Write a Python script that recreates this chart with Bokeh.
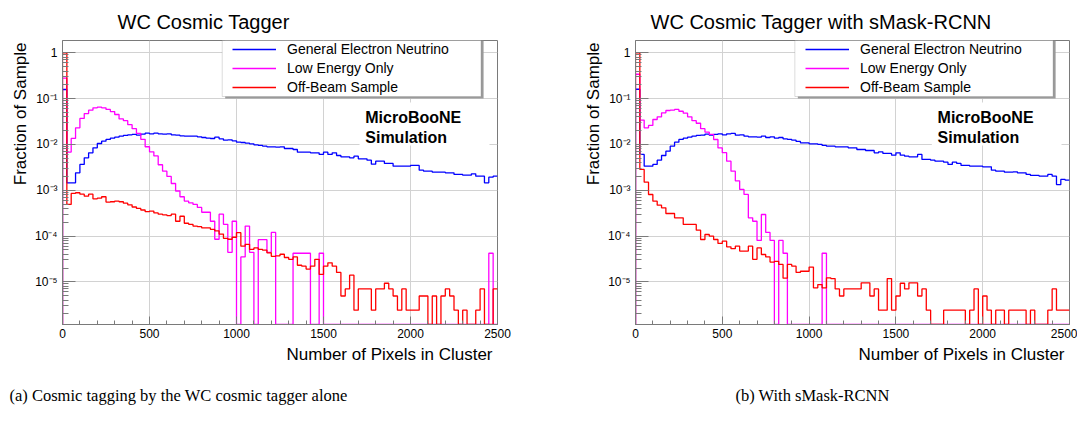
import numpy as np
from bokeh.plotting import figure
from bokeh.models import (Range1d, Legend, LegendItem, Label, Title, BoxAnnotation,
                          FixedTicker, SingleIntervalTicker, CustomJSTickFormatter)
from bokeh.layouts import row
from bokeh.embed import file_html
from bokeh.resources import INLINE

# ---------------- data ----------------
bin_edges = list(range(0, 2525, 25))          # 100 bins of 25 pixels
x_ticks_interval = 500
y_major_ticks = [1e-5, 1e-4, 1e-3, 1e-2, 1e-1, 1.0]
series_names = ["General Electron Neutrino", "Low Energy Only", "Off-Beam Sample"]
series_colors = ["#0000ff", "#ff00ff", "#ff0000"]

wc_nue = [0.158, 0.00145, 0.00145, 0.00240, 0.00365, 0.00510, 0.00656, 0.00843, 0.01048, 0.01178,
          0.01282, 0.01370, 0.01442, 0.01516, 0.01567, 0.01621, 0.01648, 0.01593, 0.01675, 0.01762,
          0.01703, 0.01762, 0.01703, 0.01675, 0.01703, 0.01621, 0.01593, 0.01541, 0.01516, 0.01516,
          0.01516, 0.01466, 0.01417, 0.01370, 0.01347, 0.01442, 0.01325, 0.01239, 0.01260, 0.01199,
          0.01121, 0.01102, 0.01066, 0.01031, 0.00980, 0.00948, 0.00917, 0.00887, 0.00887, 0.00872,
          0.00887, 0.00815, 0.00815, 0.00775, 0.00678, 0.00678, 0.00678, 0.00656, 0.00656, 0.00603,
          0.00678, 0.00603, 0.00656, 0.00573, 0.00536, 0.00536, 0.00510, 0.00554, 0.00485, 0.00485,
          0.00453, 0.00371, 0.00431, 0.00431, 0.00384, 0.00384, 0.00335, 0.00335, 0.00335, 0.00335,
          0.00347, 0.00347, 0.00274, 0.00261, 0.00261, 0.00248, 0.00248, 0.00248, 0.00240, 0.00240,
          0.00221, 0.00221, 0.00213, 0.00213, 0.00228, 0.00203, 0.00203, 0.00145, 0.00193, 0.00203]

wc_lowe = [0.28, 0.0068, 0.0135, 0.023, 0.037, 0.047, 0.056, 0.063, 0.065, 0.063,
           0.058, 0.052, 0.045, 0.036, 0.033, 0.027, 0.022, 0.0174, 0.0129, 0.0089,
           0.0069, 0.0056, 0.0036, 0.0026, 0.0020, 0.0014, 0.00096, 0.00072, 0.00058, 0.00053,
           0.00049, 0.00042, 0.00033, 0.00033, 0.00021, 8.5e-5, 3.0e-4, 1.8e-4, 4.4e-5, 2.1e-4,
           0, 3.5e-5, 1.65e-4, 4.4e-5, 0, 8.3e-5, 8.3e-5, 4.4e-5, 1.2e-4, 0,
           0, 0, 0, 4.2e-5, 4.2e-5, 4.2e-5, 4.2e-5, 0, 0, 4.2e-5,
           0, 0, 0, 0, 0, 0, 0, 0, 0, 0,
           0, 0, 0, 0, 0, 0, 0, 0, 0, 0,
           0, 0, 0, 0, 0, 0, 0, 0, 0, 0,
           0, 0, 0, 0, 0, 0, 0, 0, 4.2e-5, 0]

wc_offbeam = [1.0, 4.9e-4, 8.5e-4, 8.8e-4, 8.2e-4, 7.4e-4, 8.2e-4, 6.5e-4, 6.7e-4, 7.2e-4,
              5.5e-4, 5.6e-4, 5.8e-4, 5.6e-4, 5.2e-4, 4.8e-4, 4.3e-4, 4.0e-4, 3.7e-4, 3.4e-4,
              3.5e-4, 3.2e-4, 3.0e-4, 2.9e-4, 2.8e-4, 3.0e-4, 2.1e-4, 2.7e-4, 1.9e-4, 1.8e-4,
              1.65e-4, 1.6e-4, 1.5e-4, 1.5e-4, 1.4e-4, 1.3e-4, 1.1e-4, 8.9e-5, 8.5e-5, 9.4e-5,
              1.18e-4, 6.0e-5, 6.6e-5, 5.1e-5, 5.5e-5, 5.1e-5, 4.9e-5, 4.3e-5, 3.6e-5, 3.7e-5,
              4.0e-5, 3.4e-5, 3.1e-5, 3.5e-5, 2.3e-5, 2.2e-5, 1.9e-5, 2.2e-5, 3.1e-5, 1.45e-5,
              2.2e-5, 2.6e-5, 2.2e-5, 1.6e-5, 4.9e-6, 7.0e-6, 1.4e-5, 2.4e-6, 7.0e-6, 7.0e-6,
              7.0e-6, 2.4e-6, 7.0e-6, 7.0e-6, 9.3e-6, 7.0e-6, 4.9e-6, 2.4e-6, 7.0e-6, 2.4e-6,
              2.4e-6, 2.4e-6, 4.9e-6, 4.9e-6, 0, 4.9e-6, 0, 4.9e-6, 7.0e-6, 4.9e-6,
              2.4e-6, 0, 2.4e-6, 0, 0, 2.4e-6, 7.0e-6, 0, 0, 7.0e-6]

smask_nue = [0.16, 0.00603, 0.00335, 0.00335, 0.00365, 0.00453, 0.00573, 0.00713, 0.00917, 0.01121,
             0.01282, 0.01370, 0.01442, 0.01516, 0.01567, 0.01593, 0.01675, 0.01593, 0.01648, 0.01703,
             0.01621, 0.01703, 0.01733, 0.01593, 0.01621, 0.01516, 0.01466, 0.01466, 0.01442, 0.01516,
             0.01417, 0.01466, 0.01370, 0.01417, 0.01325, 0.01282, 0.01239, 0.01159, 0.01084, 0.01084,
             0.01031, 0.01031, 0.00997, 0.00948, 0.00917, 0.00917, 0.00887, 0.00887, 0.00887, 0.00843,
             0.00843, 0.00775, 0.00775, 0.00737, 0.00737, 0.00656, 0.00689, 0.00634, 0.00634, 0.00583,
             0.00656, 0.00583, 0.00554, 0.00536, 0.00536, 0.00603, 0.00469, 0.00469, 0.00453, 0.00431,
             0.00431, 0.00410, 0.00365, 0.00410, 0.00384, 0.00347, 0.00347, 0.00335, 0.00335, 0.00335,
             0.00324, 0.00324, 0.00274, 0.00261, 0.00261, 0.00248, 0.00248, 0.00252, 0.00240, 0.00240,
             0.00221, 0.00210, 0.00210, 0.00203, 0.00203, 0.00221, 0.00203, 0.00133, 0.00172, 0.00166]

smask_lowe = [0.34, 0.034, 0.023, 0.026, 0.035, 0.040, 0.049, 0.055, 0.056, 0.058,
              0.053, 0.048, 0.040, 0.033, 0.029, 0.022, 0.0186, 0.0165, 0.0128, 0.0084,
              0.0066, 0.0043, 0.0026, 0.0016, 0.00104, 0.00081, 0.00025, 0.00021, 8.0e-5, 2.95e-4,
              1.2e-4, 8.0e-5, 0, 8.0e-5, 4.2e-5, 0, 0, 0, 0, 0,
              0, 0, 0, 4.2e-5, 0, 0, 0, 0, 0, 0,
              0, 0, 0, 0, 0, 0, 0, 0, 0, 0,
              0, 0, 0, 0, 0, 0, 0, 0, 0, 0,
              0, 0, 0, 0, 0, 0, 0, 0, 0, 0,
              0, 0, 0, 0, 0, 0, 0, 0, 0, 0,
              0, 0, 0, 0, 0, 0, 0, 0, 0, 0]

smask_offbeam = [1.0, 2.84e-3, 1.50e-3, 8.07e-4, 5.77e-4, 4.72e-4, 4.13e-4, 3.10e-4, 3.10e-4, 2.50e-4,
                 2.50e-4, 1.79e-4, 1.79e-4, 1.79e-4, 1.34e-4, 8.4e-5, 1.08e-4, 9.9e-5, 8.4e-5, 6.9e-5,
                 7.7e-5, 5.8e-5, 5.3e-5, 6.0e-5, 4.7e-5, 4.7e-5, 6.0e-5, 3.1e-5, 5.5e-5, 3.95e-5,
                 3.5e-5, 2.7e-5, 2.8e-5, 2.4e-5, 1.2e-5, 2.4e-5, 2.2e-5, 1.6e-5, 1.7e-5, 1.7e-5,
                 2.1e-5, 7.4e-6, 8.7e-6, 7.4e-6, 1.22e-5, 1.18e-5, 7.0e-6, 4.9e-6, 7.0e-6, 7.0e-6,
                 7.0e-6, 7.0e-6, 9.5e-6, 9.5e-6, 4.9e-6, 7.0e-6, 2.4e-6, 2.4e-6, 1.18e-5, 2.4e-6,
                 4.9e-6, 9.3e-6, 7.0e-6, 9.5e-6, 9.5e-6, 4.9e-6, 7.0e-6, 2.4e-6, 0, 0,
                 0, 2.4e-6, 2.4e-6, 2.4e-6, 2.4e-6, 2.4e-6, 0, 2.4e-6, 7.0e-6, 0,
                 4.9e-6, 2.4e-6, 0, 2.4e-6, 2.4e-6, 0, 2.4e-6, 2.4e-6, 2.4e-6, 2.4e-6,
                 0, 2.4e-6, 0, 0, 0, 2.4e-6, 7.0e-6, 2.4e-6, 2.4e-6, 2.4e-6]

# ---------------- styling ----------------
Y_MIN, Y_MAX = 1.17e-6, 1.856
X_MIN, X_MAX = 0, 2500
FONT = "Liberation Sans"
GRID = "#d2d2d2"
FRAME = "#7a7a7a"

SUP_JS = r"""
const e = Math.round(Math.log10(tick));
if (e === 0) { return "1"; }
const sup = {"-": "\u207B", "0": "\u2070", "1": "\u00B9", "2": "\u00B2", "3": "\u00B3",
             "4": "\u2074", "5": "\u2075", "6": "\u2076", "7": "\u2077", "8": "\u2078", "9": "\u2079"};
return "10" + String(e).split("").map(c => sup[c]).join("");
"""


def step_coords(values):
    v = np.asarray(values, dtype=float)
    v = np.where(v > 0, v, Y_MIN)
    edges = np.asarray(bin_edges, dtype=float)
    xs = np.repeat(edges, 2)[:-1]
    ys = np.concatenate([[Y_MIN], np.repeat(v, 2)])
    return xs, ys


def make_panel(title, title_offset, caption, caption_offset, series,
               border_left, border_right, frame_w):
    p = figure(frame_width=frame_w, frame_height=284,
               x_range=Range1d(X_MIN, X_MAX), y_range=Range1d(Y_MIN, Y_MAX),
               y_axis_type="log", output_backend="svg", toolbar_location=None,
               min_border_left=border_left, min_border_right=border_right,
               min_border_top=40, min_border_bottom=0,
               background_fill_color="white", border_fill_color="white")
    p.title.text = title
    p.title.align = "left"
    p.title.offset = title_offset
    p.title.standoff = 16
    p.title.text_font = FONT
    p.title.text_font_size = "20px"
    p.title.text_font_style = "normal"
    p.title.text_color = "black"

    p.outline_line_color = FRAME
    p.outline_line_width = 1

    # x axis
    xt = SingleIntervalTicker(interval=x_ticks_interval, num_minor_ticks=5)
    xa = p.xaxis[0]
    xa.ticker = xt
    xa.major_tick_in = 8
    xa.major_tick_out = 0
    xa.minor_tick_in = 4
    xa.minor_tick_out = 0
    xa.axis_line_color = FRAME
    xa.major_tick_line_color = FRAME
    xa.minor_tick_line_color = FRAME
    xa.major_label_text_font = FONT
    xa.major_label_text_font_size = "12px"
    xa.major_label_text_color = "black"
    xa.major_label_standoff = 4
    p.xgrid.ticker = xt
    p.xgrid.grid_line_color = GRID

    # y axis
    minor = [m * 10.0 ** k for k in range(-6, 1) for m in range(2, 10)]
    yt = FixedTicker(ticks=y_major_ticks, minor_ticks=minor)
    ya = p.yaxis[0]
    ya.ticker = yt
    ya.formatter = CustomJSTickFormatter(code=SUP_JS)
    ya.major_tick_in = 13
    ya.major_tick_out = 0
    ya.minor_tick_in = 6
    ya.minor_tick_out = 0
    ya.axis_line_color = FRAME
    ya.major_tick_line_color = FRAME
    ya.minor_tick_line_color = FRAME
    ya.major_label_text_font = FONT
    ya.major_label_text_font_size = "12px"
    ya.major_label_text_color = "black"
    ya.major_label_standoff = 5
    p.ygrid.ticker = yt
    p.ygrid.grid_line_color = GRID

    # axis titles and caption
    p.add_layout(Title(text="Fraction of Sample", align="right", offset=2, standoff=4,
                       text_font=FONT, text_font_size="17px", text_font_style="normal",
                       text_color="black"), "left")
    p.add_layout(Title(text="Number of Pixels in Cluster", align="right", offset=5, standoff=5,
                       text_font=FONT, text_font_size="17px", text_font_style="normal",
                       text_color="black"), "below")
    p.add_layout(Title(text=caption, align="left", offset=caption_offset, standoff=34,
                       text_font="Liberation Serif", text_font_size="16.5px",
                       text_font_style="normal", text_color="black"), "below")

    # white box behind the MicroBooNE label
    p.add_layout(BoxAnnotation(left=1707, right=2454, top=0.082, bottom=0.0095,
                               fill_color="white", fill_alpha=1.0, line_alpha=0,
                               level="underlay"))

    renderers = []
    for vals, color in zip(series, series_colors):
        xs, ys = step_coords(vals)
        r = p.line(xs, ys, line_color=color, line_width=1.3)
        renderers.append(r)

    p.add_layout(Label(x=1740, y=0.0387, text="MicroBooNE", text_font=FONT,
                       text_font_style="bold", text_font_size="16px", text_baseline="middle",
                       text_color="black"))
    p.add_layout(Label(x=1740, y=0.01415, text="Simulation", text_font=FONT,
                       text_font_style="bold", text_font_size="16px", text_baseline="middle",
                       text_color="black"))

    # legend box with shadow
    p.add_layout(BoxAnnotation(left=935, right=2420, top=Y_MAX, bottom=0.1,
                               fill_color="#9a9a9a", fill_alpha=1.0, line_alpha=0))
    p.add_layout(BoxAnnotation(left=918, right=2405, top=Y_MAX, bottom=0.1111,
                               fill_color="white", fill_alpha=1.0,
                               line_color="#8a8a8a", line_width=1))

    items = [LegendItem(label=n, renderers=[r]) for n, r in zip(series_names, renderers)]
    legend = Legend(items=items, location=(170, 229), padding=0, spacing=3, margin=0,
                    glyph_width=44, glyph_height=16, label_height=16, label_width=150,
                    label_standoff=11, label_text_font=FONT, label_text_font_size="14px",
                    label_text_color="black",
                    border_line_alpha=0, background_fill_alpha=0)
    p.add_layout(legend, "center")
    return p


p1 = make_panel("WC Cosmic Tagger", 55, "(a) Cosmic tagging by the WC cosmic tagger alone", -53,
                [wc_nue, wc_lowe, wc_offbeam], 62, 70, 435)
p2 = make_panel("WC Cosmic Tagger with sMask-RCNN", 15, "(b) With sMask-RCNN", 100,
                [smask_nue, smask_lowe, smask_offbeam], 68, 8, 434)

layout = row(p1, p2)
open("out.html", "w").write(file_html(layout, INLINE))
